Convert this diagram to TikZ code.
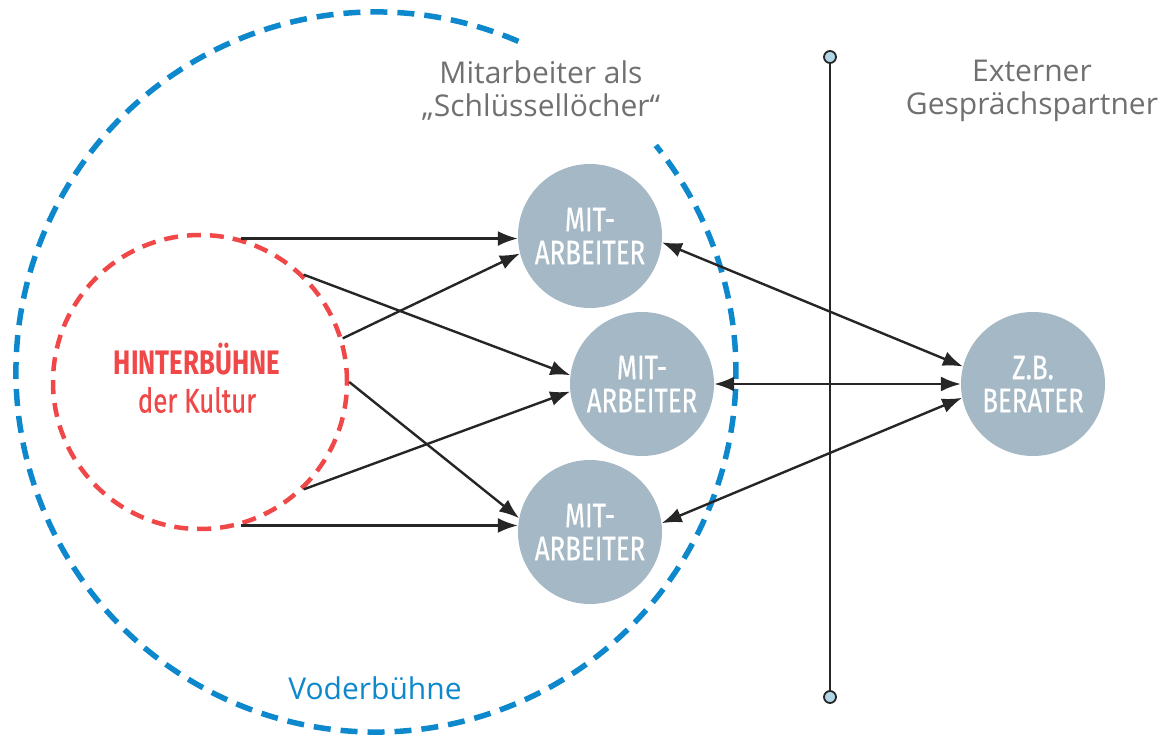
\documentclass[tikz,border=0pt]{standalone}
\usepackage{fontspec}
\setmainfont{Open Sans}
\newfontfamily\condfont[FakeStretch=0.76]{Fira Sans}
\usetikzlibrary{arrows.meta,positioning}
\definecolor{StageBlue}{RGB}{14,136,204}
\definecolor{BackRed}{RGB}{240,72,72}
\definecolor{KeyGrey}{RGB}{164,184,197}
\definecolor{LabelGrey}{RGB}{112,112,112}
\definecolor{LineDark}{RGB}{38,38,38}
\definecolor{DotBlue}{RGB}{178,214,232}
\tikzset{
  staff/.style={circle,fill=KeyGrey,minimum size=144pt,inner sep=0pt,
                text=white,align=center,
                font=\condfont\addfontfeature{FakeBold=0.5}\fontsize{34}{33}\selectfont},
  backstage/.style={circle,draw=BackRed,line width=4.5pt,
                    dash pattern=on 14pt off 9pt,minimum size=294pt,inner sep=0pt},
  frontarc/.style={StageBlue,line width=5.5pt,dash pattern=on 17pt off 10pt},
  lbl/.style={text=LabelGrey,align=center,font=\fontsize{30}{33}\selectfont},
  arr/.style={-{Latex[length=20pt,width=15pt]},LineDark,line width=2.4pt},
  darr/.style={{Latex[length=20pt,width=15pt]}-{Latex[length=20pt,width=15pt]},
               LineDark,line width=2.4pt},
  enddot/.style={circle,draw=LineDark,fill=DotBlue,line width=1.8pt,
                 minimum size=12pt,inner sep=0pt},
}
\begin{document}
\begin{tikzpicture}[x=1pt,y=1pt]
  \useasboundingbox (0,0) rectangle (1169,737);

  % Vorderbuehne as open dashed arc
  \draw[frontarc] (376,365) ++(66.7:360) arc[start angle=66.7,end angle=399,radius=360];

  % Hinterbuehne
  \node[backstage] (hb) at (200,355) {};
  \node[text=BackRed,align=center,font=\condfont\fontsize{34}{38}\selectfont]
       (hbtext) at (197,359) {\textbf{HINTERBÜHNE}\\\addfontfeature{FakeBold=0.6}der Kultur};

  % Mitarbeiter
  \node[staff] (m1) at (590,501) {MIT-\\ARBEITER};
  \node[staff] (m2) at (642,353) {MIT-\\ARBEITER};
  \node[staff] (m3) at (590,205) {MIT-\\ARBEITER};
  \node[staff] (ber) at (1033,353) {Z.B.\\BERATER};

  % boundary line
  \node[enddot] (ltop) at (830,680) {};
  \node[enddot] (lbot) at (830,40) {};
  \draw[LineDark,line width=2.2pt] (ltop) -- (lbot);

  % labels
  \node[lbl] (lkey) at (541,646) {Mitarbeiter als\\„Schlüssellöcher“};
  \node[lbl] (lext) at (1032,646) {Externer\\Gesprächspartner};
  \node[lbl,text=StageBlue] (lfront) at (375,49) {Voderbühne};

  % arrows from the backstage
  \draw[arr] (hb.74) -- (hb.74 -| m1.west);
  \draw[arr] (hb.46) -- (m2.173);
  \draw[arr] (hb.17) -- (m1.194);
  \draw[arr] (hb.0) -- (m3.169);
  \draw[arr] (hb.-46) -- (m2.186);
  \draw[arr] (hb.-74) -- (hb.-74 -| m3.west);

  % arrows to the external partner
  \draw[darr] (m1.-5) -- (ber.166);
  \draw[darr] (m2.east) -- (ber.west);
  \draw[darr] (m3.7) -- (ber.191);
\end{tikzpicture}
\end{document}
